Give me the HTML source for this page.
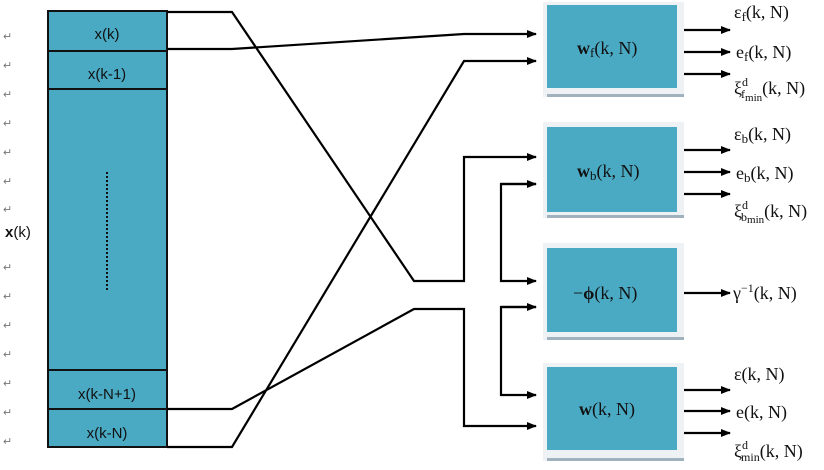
<!DOCTYPE html>
<html><head><meta charset="utf-8"><style>
body{margin:0;background:#fff;width:824px;height:470px;overflow:hidden}
svg{display:block}
.s{font-family:"Liberation Sans",sans-serif;font-size:15px;fill:#111}
.m{font-family:"Liberation Serif","DejaVu Serif",serif;font-size:18px;fill:#111}
.r{font-family:"Liberation Sans",sans-serif;font-size:11px;fill:#777}
</style></head><body>
<svg width="824" height="470" viewBox="0 0 824 470">
<defs><marker id="a" markerWidth="10" markerHeight="8" refX="9" refY="4" orient="auto" markerUnits="userSpaceOnUse"><path d="M0,0 L10,4 L0,8 z" fill="#000"/></marker></defs>
<g class="r">
<text x="3" y="40">↵</text><text x="3" y="69">↵</text><text x="3" y="98">↵</text><text x="3" y="127">↵</text><text x="3" y="156">↵</text><text x="3" y="185">↵</text><text x="3" y="213">↵</text><text x="3" y="271">↵</text><text x="3" y="300">↵</text><text x="3" y="329">↵</text><text x="3" y="358">↵</text><text x="3" y="387">↵</text><text x="3" y="416">↵</text><text x="3" y="445">↵</text>
</g>
<text x="5" y="237" class="s" font-size="16"><tspan font-weight="bold">x</tspan>(k)</text>
<rect x="48" y="11" width="119" height="436" fill="#4aaac4" stroke="#111" stroke-width="2"/>
<path d="M48 51H167M48 89H167M48 370H167M48 409H167" stroke="#111" stroke-width="2"/>
<line x1="107" y1="172" x2="107" y2="290" stroke="#111" stroke-width="2" stroke-dasharray="2,2"/>
<text x="107" y="39" class="s" text-anchor="middle">x(k)</text>
<text x="107" y="79" class="s" text-anchor="middle">x(k-1)</text>
<text x="107" y="399" class="s" text-anchor="middle">x(k-N+1)</text>
<text x="107" y="438" class="s" text-anchor="middle">x(k-N)</text>
<g fill="none" stroke="#000" stroke-width="2.2">
<polyline points="167,12 232,12 414,281 464,281 464,157 536,157" marker-end="url(#a)"/>
<polyline points="167,49 232,49 464,34 536,34" marker-end="url(#a)"/>
<polyline points="167,447 232,447 464,61 536,61" marker-end="url(#a)"/>
<polyline points="167,409 232,409 414,309 464,309 464,426 536,426" marker-end="url(#a)"/>
<polyline points="536,184 501,184 501,281 536,281" marker-end="url(#a)"/>
<line x1="501" y1="184" x2="536" y2="184" marker-end="url(#a)"/>
<polyline points="536,307 501,307 501,395 536,395" marker-end="url(#a)"/>
<line x1="501" y1="307" x2="536" y2="307" marker-end="url(#a)"/>
<line x1="684" y1="30" x2="730" y2="30" marker-end="url(#a)"/><line x1="684" y1="52" x2="730" y2="52" marker-end="url(#a)"/><line x1="684" y1="74" x2="730" y2="74" marker-end="url(#a)"/>
<line x1="684" y1="150" x2="730" y2="150" marker-end="url(#a)"/><line x1="684" y1="172" x2="730" y2="172" marker-end="url(#a)"/><line x1="684" y1="194" x2="730" y2="194" marker-end="url(#a)"/>
<line x1="684" y1="293" x2="730" y2="293" marker-end="url(#a)"/>
<line x1="684" y1="390" x2="730" y2="390" marker-end="url(#a)"/><line x1="684" y1="411" x2="730" y2="411" marker-end="url(#a)"/><line x1="684" y1="433" x2="730" y2="433" marker-end="url(#a)"/>
</g>
<g>
<rect x="543" y="2" width="141" height="95" fill="#eef2f4"/><rect x="547" y="94" width="137" height="3" fill="#9fb2bd"/><rect x="547" y="5" width="130" height="83" fill="#4aaac4"/>
<rect x="543" y="122" width="141" height="96" fill="#eef2f4"/><rect x="547" y="215" width="137" height="3" fill="#9fb2bd"/><rect x="547" y="127" width="130" height="85" fill="#4aaac4"/>
<rect x="543" y="243" width="141" height="97" fill="#eef2f4"/><rect x="547" y="337" width="137" height="3" fill="#9fb2bd"/><rect x="547" y="248" width="130" height="84" fill="#4aaac4"/>
<rect x="543" y="363" width="141" height="98" fill="#eef2f4"/><rect x="547" y="458" width="137" height="3" fill="#9fb2bd"/><rect x="547" y="367" width="130" height="83" fill="#4aaac4"/>
</g>
<g class="m">
<text x="577" y="54"><tspan font-weight="bold">w</tspan><tspan font-size="13" dy="3">f</tspan><tspan dy="-3">(k, N)</tspan></text>
<text x="577" y="177"><tspan font-weight="bold">w</tspan><tspan font-size="13" dy="3">b</tspan><tspan dy="-3">(k, N)</tspan></text>
<text x="573" y="299">−<tspan font-weight="bold">ϕ</tspan>(k, N)</text>
<text x="579" y="415"><tspan font-weight="bold">w</tspan>(k, N)</text>
<text x="734" y="18">ε<tspan font-size="13" dy="3">f</tspan><tspan dy="-3">(k, N)</tspan></text>
<text x="736" y="58">e<tspan font-size="13" dy="3">f</tspan><tspan dy="-3">(k, N)</tspan></text>
<text x="734" y="94">ξ<tspan font-size="12" dy="-8">d</tspan><tspan font-size="12" dx="-7" dy="12">f</tspan><tspan font-size="11" dy="3">min</tspan><tspan dy="-7">(k, N)</tspan></text>
<text x="734" y="140">ε<tspan font-size="13" dy="3">b</tspan><tspan dy="-3">(k, N)</tspan></text>
<text x="736" y="179">e<tspan font-size="13" dy="3">b</tspan><tspan dy="-3">(k, N)</tspan></text>
<text x="734" y="217">ξ<tspan font-size="12" dy="-8">d</tspan><tspan font-size="12" dx="-7" dy="12">b</tspan><tspan font-size="11" dy="2">min</tspan><tspan dy="-6">(k, N)</tspan></text>
<text x="733" y="299">γ<tspan font-size="12" dy="-7">−1</tspan><tspan dy="7">(k, N)</tspan></text>
<text x="734" y="380">ε(k, N)</text>
<text x="736" y="418">e(k, N)</text>
<text x="734" y="457">ξ<tspan font-size="12" dy="-8">d</tspan><tspan font-size="12" dx="-7" dy="12">min</tspan><tspan dy="-4">(k, N)</tspan></text>
</g>
</svg>
</body></html>
